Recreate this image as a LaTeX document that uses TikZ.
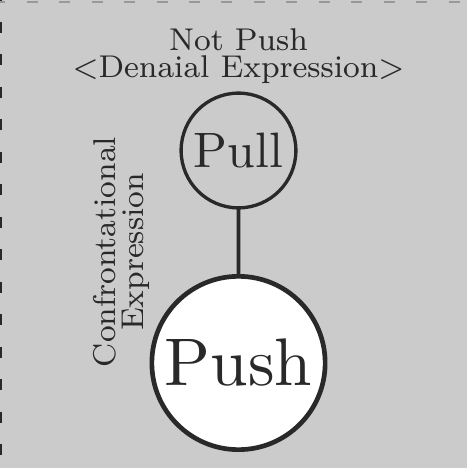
\documentclass[tikz,border=0pt]{standalone}
\usetikzlibrary{positioning}
\definecolor{panel}{gray}{0.796}
\definecolor{ink}{gray}{0.16}

\begin{document}
\begin{tikzpicture}
[x=0.75pt, y=0.75pt, semithick,
every node/.style={inner sep=0pt, outer sep=0pt, text=ink},
pullnode/.style={circle, draw=ink, font=\normalsize, scale=3.73, minimum size=23.08pt, line width=2.5pt},
pushnode/.style={circle, draw=ink, fill=white, font=\normalsize, scale=5.05, minimum size=25.74pt, line width=3.5pt},
caption/.style={align=center, scale=2.95, font=\fontsize{8}{6.9}\selectfont},
link/.style={draw=ink, line width=2.8pt},
frame/.style={dashed, dash pattern=on 8.25pt off 16.1pt, line width=1.5pt}
]
  \useasboundingbox (0,0) rectangle (467,468);
  \fill[panel] (0,0) rectangle (467,468);
  \draw[frame, draw=ink, dash phase=7.9pt] (1.3,468) -- (1.3,0);
  \draw[frame, draw=black!40, dash phase=-20pt] (0,466) -- (467,466);

  \node[pullnode]  (pull)      at (238.5,317.5)    {Pull};
  \node[pushnode]  (push)      at (238.5,105)      {Push};
  \node[caption]   (denial)    at (238.5,412)      {Not Push\\<Denaial Expression>};
  \node[caption, rotate=90] (confront) at (121.5,216) {Confrontational\\Expression};

  \path
    (pull) edge[link] (push)
    ;
\end{tikzpicture}
\end{document}
